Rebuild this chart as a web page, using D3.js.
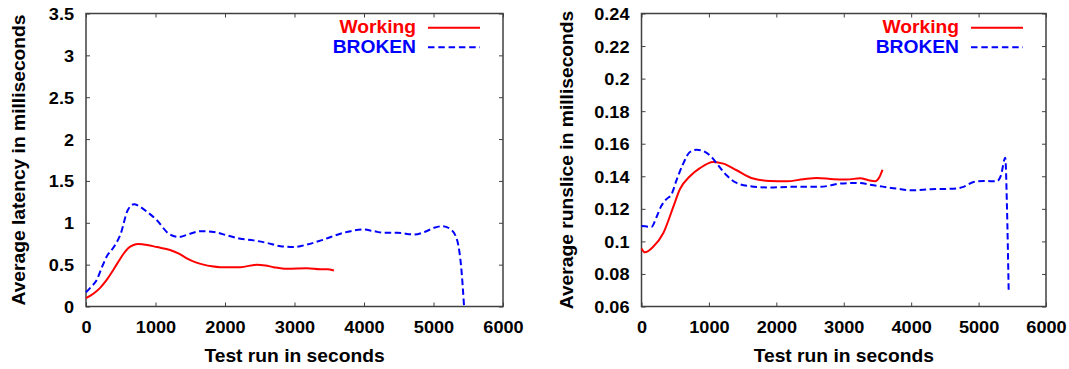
<!DOCTYPE html>
<html>
<head>
<meta charset="utf-8">
<script src="https://cdn.jsdelivr.net/npm/d3@7"></script>
<style>
  html, body { margin: 0; padding: 0; background: #fff; }
  svg { display: block; }
  text { font-family: "Liberation Sans", Arial, Helvetica, sans-serif; font-weight: bold; }
</style>
</head>
<body>
<svg id="chart" width="1069" height="369"></svg>
<script>
// ---------- data ----------
const xTicks = [0, 1000, 2000, 3000, 4000, 5000, 6000];
const latencyTicks = [0, 0.5, 1, 1.5, 2, 2.5, 3, 3.5];
const runsliceTicks = [0.06, 0.08, 0.1, 0.12, 0.14, 0.16, 0.18, 0.2, 0.22, 0.24];
const seriesNames = ["Working", "BROKEN"];

// [test run seconds, average latency ms]
const latencyWorking = [
  [0,0.10],[100,0.15],[200,0.22],[300,0.32],[394,0.44],[470,0.54],[540,0.63],[610,0.70],
  [683,0.735],[755,0.746],[880,0.735],[1020,0.71],[1210,0.675],[1330,0.635],[1450,0.575],
  [1570,0.53],[1690,0.50],[1810,0.48],[1930,0.47],[2220,0.47],[2460,0.50],[2580,0.49],
  [2700,0.47],[2890,0.45],[3180,0.456],[3375,0.444],[3470,0.446],[3567,0.43]
];
const latencyBroken = [
  [0,0.17],[80,0.24],[150,0.31],[220,0.45],[300,0.60],[400,0.71],[500,0.87],[600,1.15],
  [690,1.22],[780,1.19],[880,1.13],[1020,1.03],[1190,0.87],[1330,0.83],[1500,0.87],
  [1650,0.90],[1840,0.89],[2030,0.85],[2220,0.81],[2410,0.79],[2600,0.76],[2800,0.72],
  [2990,0.71],[3180,0.74],[3420,0.80],[3660,0.87],[3810,0.90],[3980,0.92],[4140,0.90],
  [4290,0.88],[4480,0.88],[4720,0.86],[4870,0.89],[5010,0.94],[5130,0.96],[5250,0.92],
  [5320,0.84],[5360,0.72],[5395,0.50],[5440,0]
];
// [test run seconds, average runslice ms]
const runsliceWorking = [
  [0,0.0957],[50,0.0933],[173,0.0967],[322,0.105],[470,0.121],[569,0.132],[718,0.140],
  [866,0.145],[1064,0.1488],[1213,0.1478],[1411,0.1437],[1658,0.1386],[1906,0.1371],
  [2153,0.1369],[2401,0.1382],[2599,0.139],[2847,0.1382],[3045,0.138],[3243,0.1388],
  [3366,0.1376],[3465,0.137],[3530,0.1396],[3574,0.144]
];
const runsliceBroken = [
  [0,0.1094],[149,0.109],[223,0.115],[297,0.122],[371,0.126],[446,0.129],[520,0.1376],
  [619,0.1478],[718,0.1549],[817,0.1563],[916,0.1555],[1040,0.1518],[1139,0.1467],
  [1262,0.1406],[1411,0.1359],[1609,0.1339],[1906,0.1331],[2203,0.1335],[2649,0.1335],
  [2946,0.1355],[3193,0.1359],[3441,0.1345],[3787,0.1324],[4010,0.1314],[4282,0.132],
  [4629,0.1324],[4777,0.1335],[4926,0.1365],[5074,0.1371],[5272,0.1369],[5332,0.1406],
  [5396,0.1514],[5421,0.1212],[5446,0.0702]
];

// ---------- drawing ----------
const svg = d3.select("#chart");
const FRAME = "#404040";
const SX = 1.1; // horizontal stretch of the original lettering

function panel(opt) {
  const { left, right, top, bottom, yDomain, yTicks, yTitle, yTitleX, working, broken } = opt;
  const x = d3.scaleLinear().domain([0, 6000]).range([left, right]);
  const y = d3.scaleLinear().domain(yDomain).range([bottom, top]);
  const g = svg.append("g");

  const styleTicks = sel => {
    sel.select(".domain").remove();
    sel.selectAll(".tick line").attr("stroke", FRAME).attr("stroke-width", 1);
  };

  // bottom axis with labels
  g.append("g").attr("transform", `translate(0,${bottom})`)
    .call(d3.axisBottom(x).tickValues(xTicks).tickSizeInner(-4).tickSizeOuter(0).tickFormat(d => String(d)))
    .call(styleTicks)
    .call(s => s.selectAll(".tick text")
      .attr("y", 26.8).attr("dy", null)
      .attr("transform", `scale(${SX},1)`)
      .attr("fill", "#000").style("font-size", "16.5px").style("font-family", null));
  // top mirror ticks
  g.append("g").attr("transform", `translate(0,${top})`)
    .call(d3.axisTop(x).tickValues(xTicks).tickSizeInner(-4).tickSizeOuter(0).tickFormat(""))
    .call(styleTicks);
  // left axis with labels
  g.append("g").attr("transform", `translate(${left},0)`)
    .call(d3.axisLeft(y).tickValues(yTicks).tickSizeInner(-4).tickSizeOuter(0).tickFormat(d => String(d)))
    .call(styleTicks)
    .call(s => s.selectAll(".tick text")
      .attr("x", -12 / SX).attr("dy", "0.36em")
      .attr("transform", `scale(${SX},1)`)
      .attr("fill", "#000").style("font-size", "16.5px").style("font-family", null));
  // right mirror ticks
  g.append("g").attr("transform", `translate(${right},0)`)
    .call(d3.axisRight(y).tickValues(yTicks).tickSizeInner(-4).tickSizeOuter(0).tickFormat(""))
    .call(styleTicks);

  // frame
  g.append("rect")
    .attr("x", left).attr("y", top)
    .attr("width", right - left).attr("height", bottom - top)
    .attr("fill", "none").attr("stroke", FRAME).attr("stroke-width", 1.5);

  // lines
  const line = d3.line().x(d => x(d[0])).y(d => y(d[1])).curve(d3.curveMonotoneX);
  g.append("path").datum(working).attr("d", line)
    .attr("fill", "none").attr("stroke", "#ff0000").attr("stroke-width", 2);
  g.append("path").datum(broken).attr("d", line)
    .attr("fill", "none").attr("stroke", "#0000ff").attr("stroke-width", 2)
    .attr("stroke-dasharray", "6.5,3.5");

  // legend
  const textRight = right - 87;
  const lineX1 = right - 75, lineX2 = right - 23;
  const legendRows = [
    { name: seriesNames[0], color: "#ff0000", base: 33.3, ly: 27.7, dash: null },
    { name: seriesNames[1], color: "#0000ff", base: 52.7, ly: 47.3, dash: "6.5,3.8" }
  ];
  legendRows.forEach(r => {
    g.append("text")
      .attr("transform", `translate(${textRight},${r.base}) scale(${SX},1)`)
      .attr("text-anchor", "end").attr("fill", r.color)
      .style("font-size", "17.5px").text(r.name);
    g.append("line")
      .attr("x1", lineX1).attr("x2", lineX2).attr("y1", r.ly).attr("y2", r.ly)
      .attr("stroke", r.color).attr("stroke-width", 2)
      .attr("stroke-dasharray", r.dash);
  });

  // axis titles
  g.append("text")
    .attr("transform", `translate(${(left + right) / 2},361.7) scale(${SX},1)`)
    .attr("text-anchor", "middle").attr("fill", "#000")
    .style("font-size", "17.5px").text("Test run in seconds");
  g.append("text")
    .attr("transform", `translate(${yTitleX},${(top + bottom) / 2}) rotate(-90) scale(${SX},1)`)
    .attr("text-anchor", "middle").attr("fill", "#000")
    .style("font-size", "17.5px").text(yTitle);
}

panel({
  left: 86, right: 503, top: 13.5, bottom: 306.5,
  yDomain: [0, 3.5], yTicks: latencyTicks,
  yTitle: "Average latency in milliseconds", yTitleX: 25,
  working: latencyWorking, broken: latencyBroken
});
panel({
  left: 641.5, right: 1046, top: 13.5, bottom: 306.5,
  yDomain: [0.06, 0.24], yTicks: runsliceTicks,
  yTitle: "Average runslice in milliseconds", yTitleX: 573,
  working: runsliceWorking, broken: runsliceBroken
});
</script>
</body>
</html>
